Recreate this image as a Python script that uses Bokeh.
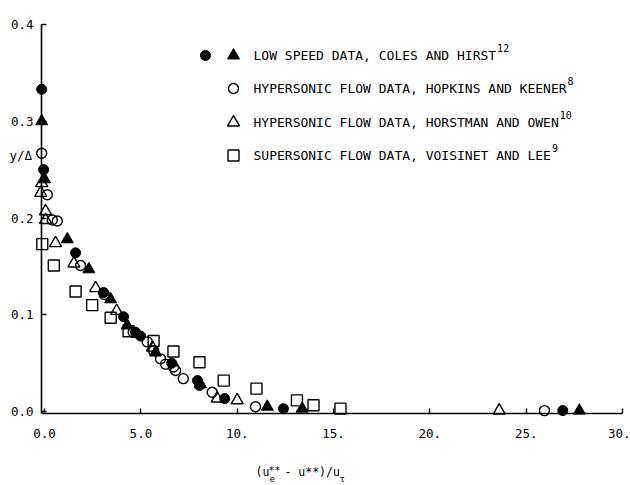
from bokeh.plotting import figure
from bokeh.models import Label, FixedTicker, Range1d, PrintfTickFormatter, LinearAxis
from bokeh.embed import file_html
from bokeh.resources import INLINE

# ---------------- data ----------------
# Low speed data, Coles and Hirst (filled circles)
coles_circ_x = [-0.15, -0.05, 1.61, 3.06, 4.10, 4.72, 4.98, 6.60, 7.94, 8.04, 9.35, 12.40, 26.90]
coles_circ_y = [0.333, 0.250, 0.164, 0.123, 0.098, 0.082, 0.078, 0.050, 0.032, 0.027, 0.0134, 0.003, 0.001]
# Low speed data, Coles and Hirst (filled triangles)
coles_tri_x = [-0.15, 0.00, 1.18, 2.30, 3.43, 4.29, 5.76, 8.10, 11.56, 13.37, 27.76]
coles_tri_y = [0.300, 0.240, 0.178, 0.147, 0.116, 0.089, 0.061, 0.028, 0.005, 0.003, 0.001]
# Hypersonic flow data, Hopkins and Keener (open circles)
hopkins_x = [-0.15, 0.14, 0.40, 0.66, 1.87, 3.10, 4.60, 5.33, 5.66, 6.02, 6.28, 6.69, 6.80, 7.20, 8.70, 10.95, 25.95]
hopkins_y = [0.267, 0.224, 0.198, 0.197, 0.151, 0.121, 0.082, 0.072, 0.063, 0.0545, 0.049, 0.046, 0.0425, 0.034, 0.020, 0.005, 0.001]
# Hypersonic flow data, Horstman and Owen (open triangles)
horstman_x = [-0.15, -0.20, 0.05, 0.05, 0.57, 1.52, 2.65, 3.74, 5.60, 8.96, 10.00, 23.60]
horstman_y = [0.236, 0.226, 0.207, 0.198, 0.174, 0.153, 0.1275, 0.104, 0.066, 0.0134, 0.0116, 0.001]
# Supersonic flow data, Voisinet and Lee (open squares)
voisinet_x = [-0.12, 0.48, 1.61, 2.47, 3.43, 4.36, 5.66, 6.69, 8.04, 9.30, 11.00, 13.10, 13.96, 15.36]
voisinet_y = [0.173, 0.151, 0.124, 0.110, 0.097, 0.083, 0.073, 0.062, 0.051, 0.032, 0.0237, 0.0116, 0.0065, 0.003]

x_ticks = [0, 5, 10, 15, 20, 25, 30]
x_tick_labels = ["0.0", "5.0", "10.", "15.", "20.", "25.", "30."]
y_ticks = [0.0, 0.1, 0.2, 0.3, 0.4]

legend_labels = ["LOW SPEED DATA, COLES AND HIRST",
                 "HYPERSONIC FLOW DATA, HOPKINS AND KEENER",
                 "HYPERSONIC FLOW DATA, HORSTMAN AND OWEN",
                 "SUPERSONIC FLOW DATA, VOISINET AND LEE"]
legend_refs = ["12", "8", "10", "9"]

# ---------------- layout ----------------
FONT = "DejaVu Sans Mono"
X0, X1 = -0.16, 30.0
Y0, Y1 = -0.002, 0.4
FL, FR, FT, FB = 41, 622, 24, 413   # axis box edges in page pixels
W, H = 630, 485

def px2x(px):
    return X0 + (px - FL) * (X1 - X0) / (FR - FL)

def px2y(py):
    return Y1 - (py - FT) * (Y1 - Y0) / (FB - FT)

p = figure(width=W, height=H, output_backend="svg", toolbar_location=None,
           x_range=Range1d(px2x(0), px2x(W)), y_range=Range1d(px2y(H), px2y(0)),
           x_axis_location=None, y_axis_location=None,
           min_border_left=0, min_border_right=0, min_border_top=0, min_border_bottom=0)
p.grid.visible = False
p.outline_line_color = None
p.background_fill_color = "white"
p.border_fill_color = "white"

xaxis = LinearAxis(fixed_location=Y0, bounds=(X0, X1))
yaxis = LinearAxis(fixed_location=X0, bounds=(Y0, Y1))
p.add_layout(xaxis, "below")
p.add_layout(yaxis, "left")

for ax in (xaxis, yaxis):
    ax.axis_line_width = 1.6
    ax.axis_line_color = "black"
    ax.major_tick_in = 5
    ax.major_tick_out = 0
    ax.major_tick_line_width = 1.4
    ax.minor_tick_line_color = None
    ax.major_label_text_font = FONT
    ax.major_label_text_font_size = "12.5px"
    ax.major_label_text_color = "black"

xaxis.ticker = FixedTicker(ticks=x_ticks)
xaxis.major_label_overrides = {t: s for t, s in zip(x_ticks, x_tick_labels)}
xaxis.major_label_standoff = 15
yaxis.ticker = FixedTicker(ticks=y_ticks)
yaxis.formatter = PrintfTickFormatter(format="%.1f")
yaxis.major_label_standoff = 8

LW = 1.4
p.scatter(coles_circ_x, coles_circ_y, marker="circle", size=10,
          fill_color="black", line_color="black")
p.scatter(coles_tri_x, coles_tri_y, marker="triangle", size=12,
          fill_color="black", line_color="black")
p.scatter(hopkins_x, hopkins_y, marker="circle", size=10,
          fill_color="white", fill_alpha=0.0, line_color="black", line_width=LW)
p.scatter(horstman_x, horstman_y, marker="triangle", size=12,
          fill_color="white", fill_alpha=0.0, line_color="black", line_width=LW)
p.scatter(voisinet_x, voisinet_y, marker="square", size=11,
          fill_color="white", fill_alpha=0.0, line_color="black", line_width=LW)

# ---------------- legend (drawn by hand) ----------------
rows = [55, 88, 122, 155]
p.scatter([px2x(205)], [px2y(rows[0])], marker="circle", size=10,
          fill_color="black", line_color="black")
p.scatter([px2x(233)], [px2y(rows[0])], marker="triangle", size=12,
          fill_color="black", line_color="black")
p.scatter([px2x(233)], [px2y(rows[1])], marker="circle", size=10,
          fill_color="white", line_color="black", line_width=LW)
p.scatter([px2x(233)], [px2y(rows[2])], marker="triangle", size=12,
          fill_color="white", line_color="black", line_width=LW)
p.scatter([px2x(233)], [px2y(rows[3])], marker="square", size=11,
          fill_color="white", line_color="black", line_width=LW)

LFS = 13
CW = 0.602 * LFS
for r, lab, ref in zip(rows, legend_labels, legend_refs):
    p.add_layout(Label(x=px2x(253), y=px2y(r), text=lab, text_font=FONT,
                       text_font_size=f"{LFS}px", text_baseline="middle",
                       text_color="black"))
    p.add_layout(Label(x=px2x(253 + len(lab) * CW + 1), y=px2y(r - 8), text=ref,
                       text_font=FONT, text_font_size="10px",
                       text_baseline="middle", text_color="black"))

# ---------------- axis titles ----------------
p.add_layout(Label(x=px2x(9), y=px2y(155), text="y/\u0394", text_font=FONT,
                   text_font_size="12.5px", text_baseline="middle", text_color="black"))

XFS = 11.5
p.add_layout(Label(x=px2x(255), y=px2y(471), text="(u", text_font=FONT,
                   text_font_size=f"{XFS}px", text_baseline="middle", text_color="black"))
p.add_layout(Label(x=px2x(268), y=px2y(470), text="**", text_font=FONT,
                   text_font_size="10px", text_baseline="middle", text_color="black"))
p.add_layout(Label(x=px2x(269), y=px2y(478), text="e", text_font=FONT,
                   text_font_size="9px", text_baseline="middle", text_color="black"))
p.add_layout(Label(x=px2x(284), y=px2y(471), text="- u**)/u", text_font=FONT,
                   text_font_size=f"{XFS}px", text_baseline="middle", text_color="black"))
p.add_layout(Label(x=px2x(339), y=px2y(478), text="\u03c4", text_font=FONT,
                   text_font_size="9px", text_baseline="middle", text_color="black"))

open("out.html", "w").write(file_html(p, INLINE))
